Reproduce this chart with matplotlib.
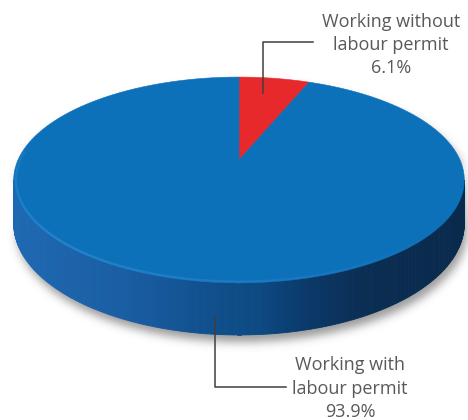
import numpy as np
import matplotlib.pyplot as plt
from matplotlib.patches import Polygon
from matplotlib.path import Path
from matplotlib.colors import LinearSegmentedColormap

# shares of working population, clockwise from 12 o'clock
labels = ['Working without\nlabour permit', 'Working with\nlabour permit']
shares = [6.1, 93.9]
colors = ['#E8292B', '#0D71BA']

# disc geometry (pixels), mild perspective so the back edge is narrower
cx, cy = 239, 160
hx, sy = 221, 99
k = 0.194
depth = 42


def proj(theta, r=1.0, z=0.0):
    t = np.radians(theta)
    u, v = r * np.cos(t), r * np.sin(t)
    w = 1 + k * np.sin(t)
    return cx + hx * u / w, cy - sy * v / w + z * depth / w


fig = plt.figure(figsize=(4.68, 4.2), dpi=100)
ax = fig.add_axes([0, 0, 1, 1])
ax.set_xlim(0, 468)
ax.set_ylim(420, 0)
ax.axis('off')

# silhouette angles (widest points of the ellipse)
a0 = np.degrees(np.arcsin(k))
left, right = 180 + a0, 360 - a0

# soft shadow under the disc
th = np.linspace(0, 360, 400)
tx, ty = proj(th)
bth = np.linspace(left, right, 200)
bx, by = proj(bth, z=1.0)
outline = np.r_[np.c_[tx, ty][(th <= left) | (th >= right)], np.c_[bx, by]]
xs, ys = np.meshgrid(np.arange(468) + 0.5, np.arange(420) + 0.5)
mask = Path(outline + [3, 7]).contains_points(np.c_[xs.ravel(), ys.ravel()])
mask = mask.reshape(ys.shape).astype(float)
g = np.exp(-0.5 * (np.arange(-15, 16) / 4.5) ** 2)
g /= g.sum()
mask = np.apply_along_axis(lambda m: np.convolve(m, g, mode='same'), 0, mask)
mask = np.apply_along_axis(lambda m: np.convolve(m, g, mode='same'), 1, mask)
shadow = np.zeros(mask.shape + (4,))
shadow[..., :3] = 0.4
shadow[..., 3] = mask * 0.65
ax.imshow(shadow, extent=(0, 468, 420, 0), zorder=0, interpolation='bilinear')

# side wall, shaded from left to right
side_cmap = LinearSegmentedColormap.from_list('side', [
    (0.0, '#1F69B3'), (0.25, '#1A5EA3'), (0.45, '#104F8C'),
    (0.55, '#0D4A83'), (0.65, '#0B3A6A'), (0.78, '#0B2E54'), (1.0, '#0A2A4C')])
edges = np.linspace(left, right, 200)
for t0, t1 in zip(edges[:-1], edges[1:]):
    x0, y0 = proj(t0)
    x1, y1 = proj(t1)
    x2, y2 = proj(t1, z=1.0)
    x3, y3 = proj(t0, z=1.0)
    c = side_cmap(((x0 + x1) / 2 - 12) / 451)
    ax.add_patch(Polygon([(x0, y0), (x1, y1), (x2, y2), (x3, y3)],
                         closed=True, facecolor=c, edgecolor=c, lw=0.6, zorder=1))

# top face wedges
bounds = 90 - 360 * np.r_[0, np.cumsum(shares)] / sum(shares)
for i, col in enumerate(colors):
    arc = np.linspace(bounds[i], bounds[i + 1], 300)
    px, py = proj(arc)
    pts = np.r_[[(cx, cy)], np.c_[px, py]]
    ax.add_patch(Polygon(pts, closed=True, facecolor=col, edgecolor=col,
                         lw=0.4, zorder=2))

# light bevel along the front rim of the top face
rim = np.linspace(175, 320, 200)
for t0, t1 in zip(rim[:-1], rim[1:]):
    fade = np.clip(1 - abs((t0 + t1) / 2 - 225) / 95, 0, 1)
    x0, y0 = proj(t0, r=0.99)
    x1, y1 = proj(t1, r=0.99)
    ax.plot([x0, x1], [y0, y1], color='#3C8FD6', lw=1.6, alpha=0.6 * fade,
            solid_capstyle='butt', zorder=3)

# labels with elbow leader lines
anchors = [proj(81, r=0.82), proj(265, z=0.65)]
elbows = [(42, 313), (387, 286)]
text_pos = [(391, 26.7), (350, 370.5)]
line_gap = 23.2
for lab, val, (ax0, ay0), (ey, ex), (lx, ly) in zip(labels, shares, anchors,
                                                      elbows, text_pos):
    ax.plot([ax0, ax0, ex], [ay0, ey, ey], color='#3F3F3F', lw=1.1, zorder=4)
    lines = lab.split('\n') + [f'{val:.1f}%']
    for j, s in enumerate(lines):
        ax.text(lx, ly + j * line_gap, s, ha='center', va='baseline',
                fontsize=13, family='Open Sans', color='#595959', zorder=5)

fig.savefig('out.png', dpi=100)
